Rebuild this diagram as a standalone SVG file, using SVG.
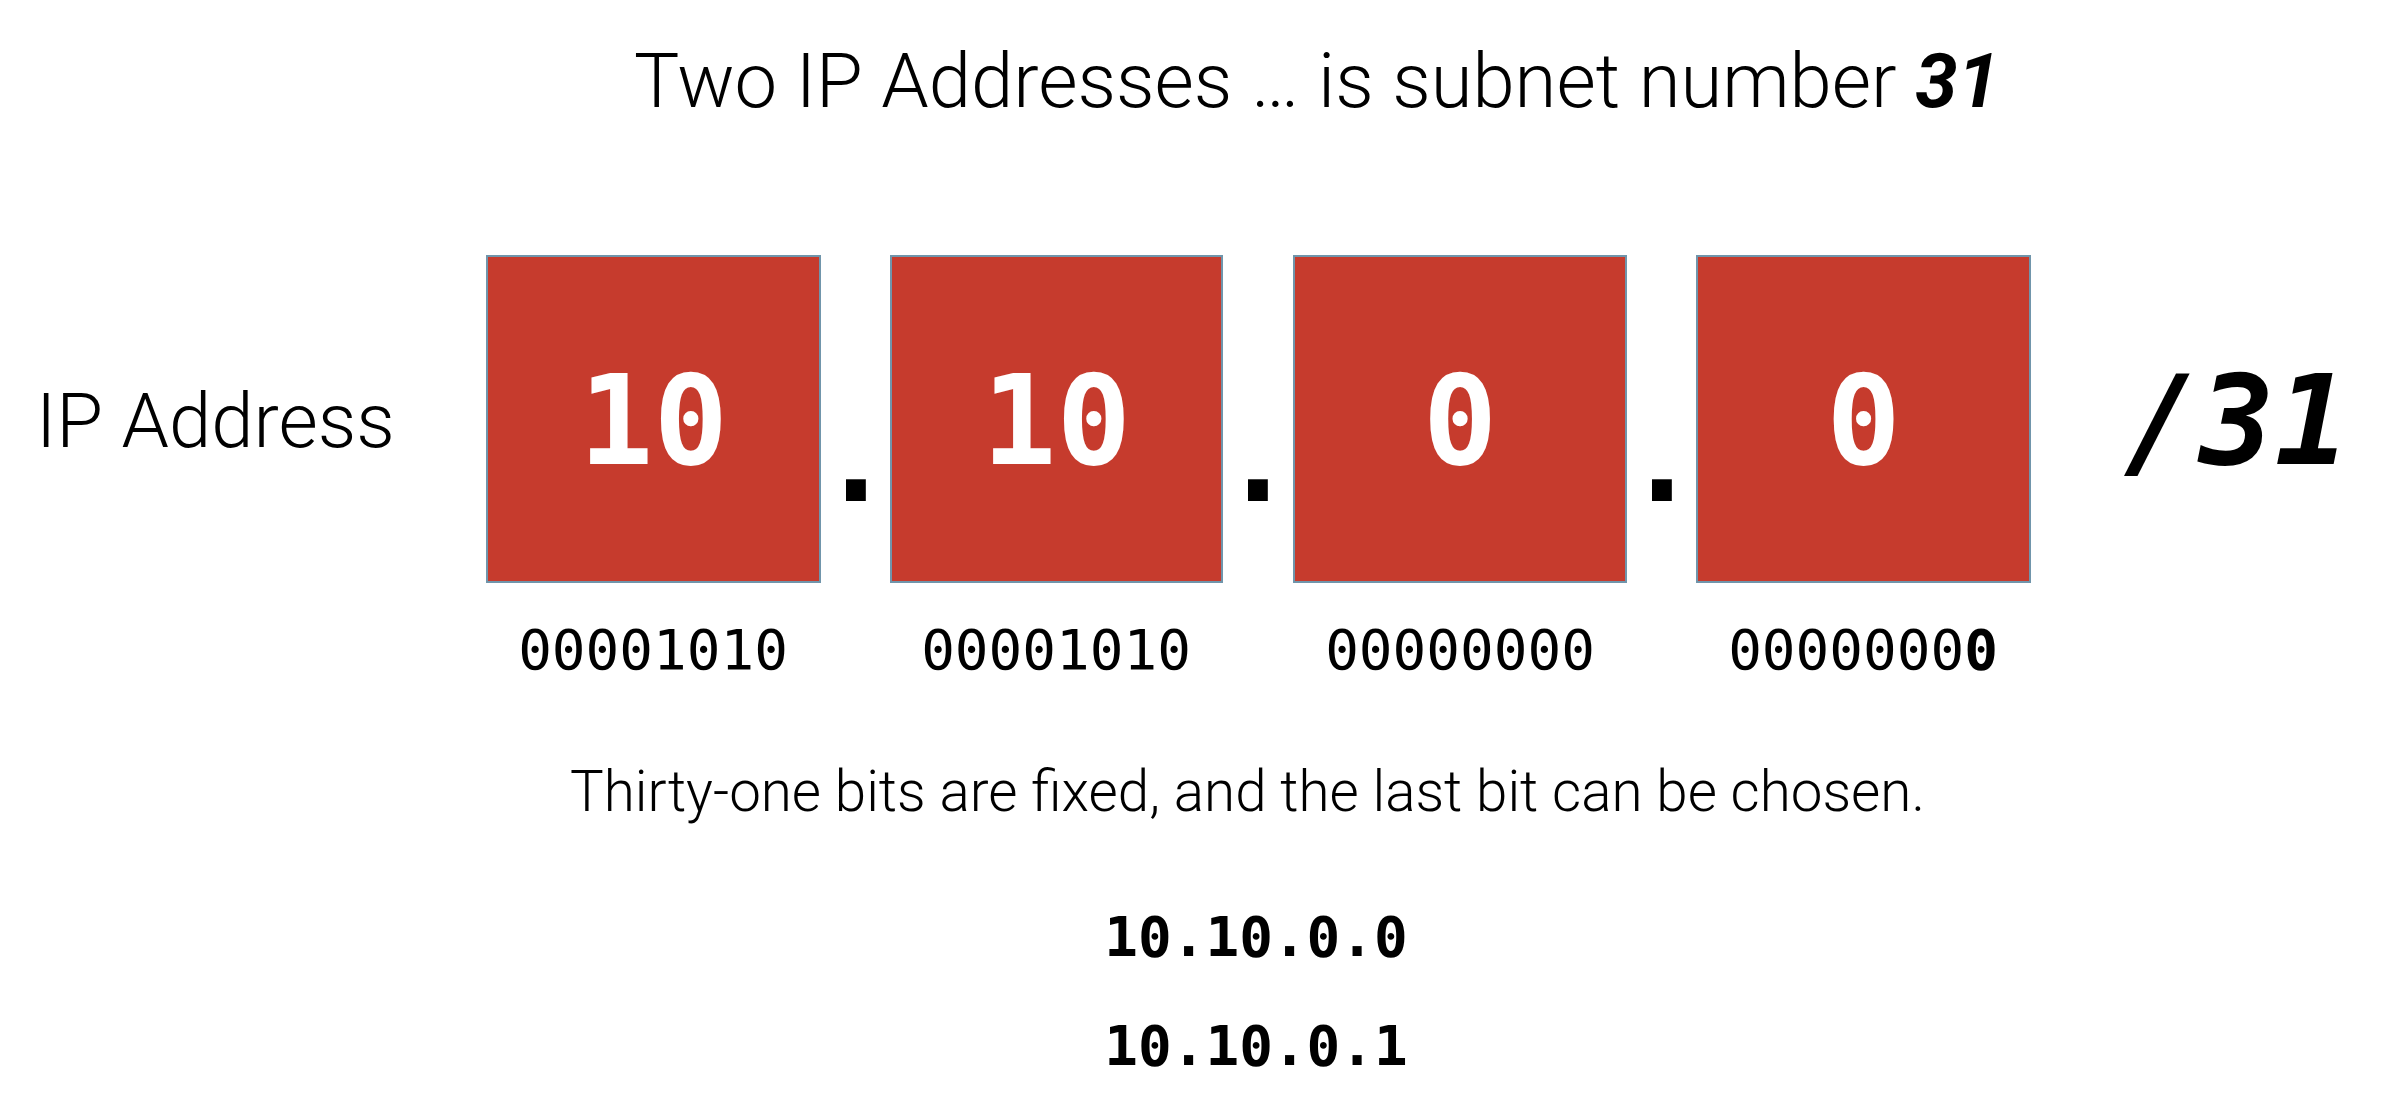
<svg xmlns="http://www.w3.org/2000/svg" width="2402" height="1102" viewBox="0 0 2402 1102">
<style>
.sans{font-family:Roboto,"Liberation Sans",sans-serif;font-weight:300;fill:#000}
.mono{font-family:"DejaVu Sans Mono","Liberation Mono",monospace;fill:#000}
.box{fill:#C63B2D;stroke:#7095AB;stroke-width:2}
.big{font-family:"DejaVu Sans Mono","Liberation Mono",monospace;font-weight:bold;font-size:124px;fill:#fff;text-anchor:middle}
.bin{font-size:56px;text-anchor:middle}
.dot{font-family:"DejaVu Sans Mono","Liberation Mono",monospace;font-weight:bold;font-size:122px;fill:#000;text-anchor:middle}
</style>
<rect width="2402" height="1102" fill="#fff"/>
<g id="title">
<text class="sans" x="634" y="107" font-size="76">Two IP Addresses … is subnet number <tspan font-weight="bold" font-style="italic">31</tspan></text>
</g>
<g id="label">
<text class="sans" x="36" y="447" font-size="76">IP Address</text>
</g>
<g id="octet1">
<rect class="box" x="487" y="256" width="333" height="326"/>
<text class="big" x="653.5" y="464">10</text>
<text class="mono bin" x="653" y="669">00001010</text>
</g>
<g id="octet2">
<rect class="box" x="891" y="256" width="331" height="326"/>
<text class="big" x="1056.5" y="464">10</text>
<text class="mono bin" x="1056" y="669">00001010</text>
</g>
<g id="octet3">
<rect class="box" x="1294" y="256" width="332" height="326"/>
<text class="big" x="1460" y="464">0</text>
<text class="mono bin" x="1460" y="669">00000000</text>
</g>
<g id="octet4">
<rect class="box" x="1697" y="256" width="333" height="326"/>
<text class="big" x="1863.5" y="464">0</text>
<text class="mono bin" x="1863" y="669">0000000<tspan font-weight="bold">0</tspan></text>
</g>
<g id="dots">
<text class="dot" x="856" y="501">.</text>
<text class="dot" x="1258" y="501">.</text>
<text class="dot" x="1662" y="501">.</text>
</g>
<g id="prefix">
<text class="mono" x="2124" y="464" font-size="125" font-weight="bold" font-style="italic">/31</text>
</g>
<g id="note">
<text class="sans" x="570" y="811" font-size="56.5">Thirty-one bits are fixed, and the last bit can be chosen.</text>
</g>
<g id="addresses">
<text class="mono" x="1256" y="956" font-size="56" font-weight="bold" text-anchor="middle">10.10.0.0</text>
<text class="mono" x="1256" y="1065" font-size="56" font-weight="bold" text-anchor="middle">10.10.0.1</text>
</g>
</svg>
